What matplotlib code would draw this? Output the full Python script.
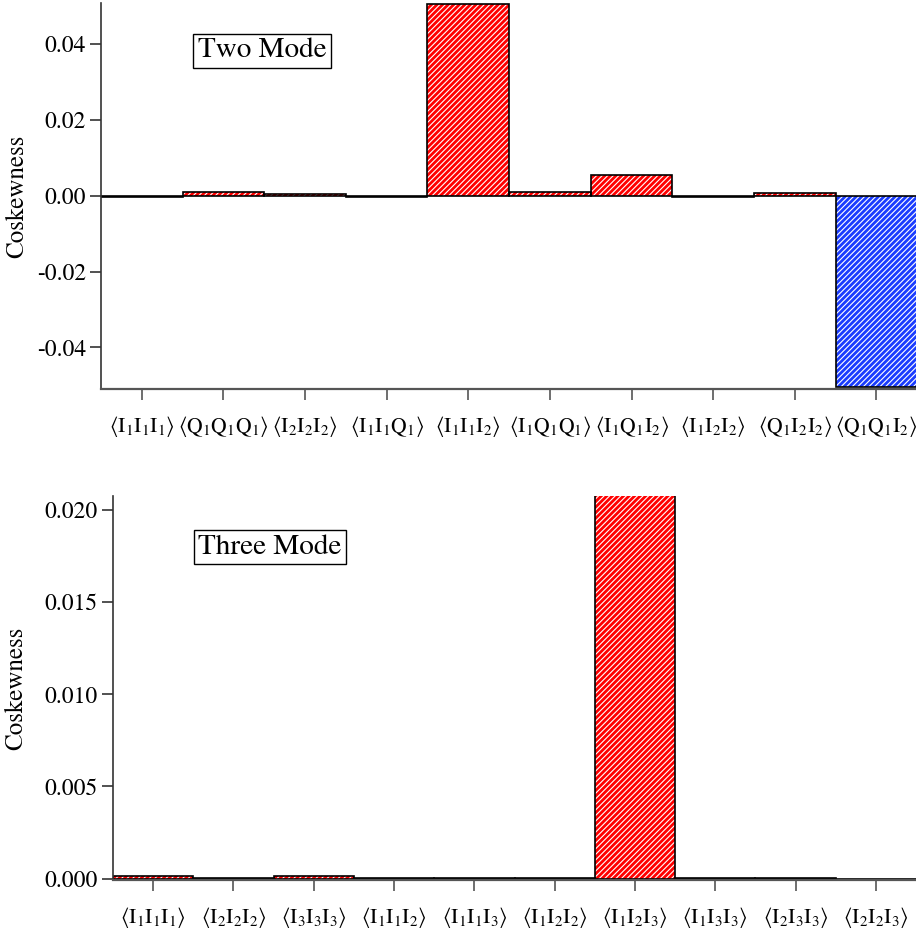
import numpy as np
import matplotlib
matplotlib.use("Agg")
import matplotlib.pyplot as plt

plt.rcParams['font.family'] = ['STIXGeneral', 'DejaVu Serif']
plt.rcParams['mathtext.fontset'] = 'stix'
plt.rcParams['hatch.linewidth'] = 0.8

# Two mode coskewness values
two_labels = [r'$\langle \mathrm{I_1I_1I_1} \rangle$', r'$\langle \mathrm{Q_1Q_1Q_1} \rangle$',
              r'$\langle \mathrm{I_2I_2I_2} \rangle$', r'$\langle \mathrm{I_1I_1Q_1} \rangle$',
              r'$\langle \mathrm{I_1I_1I_2} \rangle$', r'$\langle \mathrm{I_1Q_1Q_1} \rangle$',
              r'$\langle \mathrm{I_1Q_1I_2} \rangle$', r'$\langle \mathrm{I_1I_2I_2} \rangle$',
              r'$\langle \mathrm{Q_1I_2I_2} \rangle$', r'$\langle \mathrm{Q_1Q_1I_2} \rangle$']
two_values = [-0.0002, 0.0009, 0.0006, -0.0002, 0.0507, 0.0009, 0.0056, -0.0002, 0.0007, -0.0505]

# Three mode coskewness values
three_labels = [r'$\langle \mathrm{I_1I_1I_1} \rangle$', r'$\langle \mathrm{I_2I_2I_2} \rangle$',
                r'$\langle \mathrm{I_3I_3I_3} \rangle$', r'$\langle \mathrm{I_1I_1I_2} \rangle$',
                r'$\langle \mathrm{I_1I_1I_3} \rangle$', r'$\langle \mathrm{I_1I_2I_2} \rangle$',
                r'$\langle \mathrm{I_1I_2I_3} \rangle$', r'$\langle \mathrm{I_1I_3I_3} \rangle$',
                r'$\langle \mathrm{I_2I_3I_3} \rangle$', r'$\langle \mathrm{I_2I_2I_3} \rangle$']
three_values = [0.00014, 0.00002, 0.00014, 0.00002, 0.00002, 0.00002, 0.0208, 0.00002, 0.00002, -0.00005]

RED = '#ff0000'
BLUE = '#1a3cff'


def draw(ax, labels, values, ylim, yticks, yfmt, title, title_xy):
    x = np.arange(len(values))
    colors = [RED if v >= 0 else BLUE for v in values]
    # hatched fill with white lines, then black outline on top
    ax.bar(x, values, width=1.0, color=colors, edgecolor='white', linewidth=0, hatch='//////')
    ax.bar(x, values, width=1.0, fill=False, edgecolor='black', linewidth=1.2)
    ax.set_xlim(-0.5, len(values) - 0.5)
    ax.set_ylim(*ylim)
    ax.set_yticks(yticks)
    ax.set_yticklabels([yfmt % t for t in yticks])
    ax.set_xticks(x)
    ax.set_xticklabels(labels, fontsize=15.5)
    for s in ['top', 'right']:
        ax.spines[s].set_visible(False)
    ax.spines['left'].set_color('#333333')
    ax.spines['bottom'].set_color('#555555')
    ax.spines['left'].set_linewidth(1.2)
    ax.spines['bottom'].set_linewidth(1.6)
    ax.tick_params(axis='y', labelsize=17, length=8, width=1.2, color='#333333', pad=3)
    ax.tick_params(axis='x', length=8, width=1.2, color='#555555', pad=10)
    ax.set_ylabel('Coskewness', fontsize=18)
    ax.text(title_xy[0], title_xy[1], title, transform=ax.transAxes, fontsize=21,
            ha='center', va='center',
            bbox=dict(boxstyle='square,pad=0.15', facecolor='white', edgecolor='black', linewidth=1))


fig = plt.figure(figsize=(9.16, 9.32), dpi=100)
ax1 = fig.add_axes([0.1103, 0.5826, 0.891, 0.4142])
ax2 = fig.add_axes([0.1234, 0.0553, 0.8766, 0.4125])

draw(ax1, two_labels, two_values, (-0.051, 0.0509), [-0.04, -0.02, 0.0, 0.02, 0.04], '%.2f',
     'Two Mode', (0.197, 0.876))
draw(ax2, three_labels, three_values, (-0.0001, 0.02076), [0.0, 0.005, 0.010, 0.015, 0.020], '%.3f',
     'Three Mode', (0.1955, 0.867))

ax1.yaxis.set_label_coords(-0.088, 0.5)
ax2.yaxis.set_label_coords(-0.105, 0.5)

fig.savefig('out.png', dpi=100)
